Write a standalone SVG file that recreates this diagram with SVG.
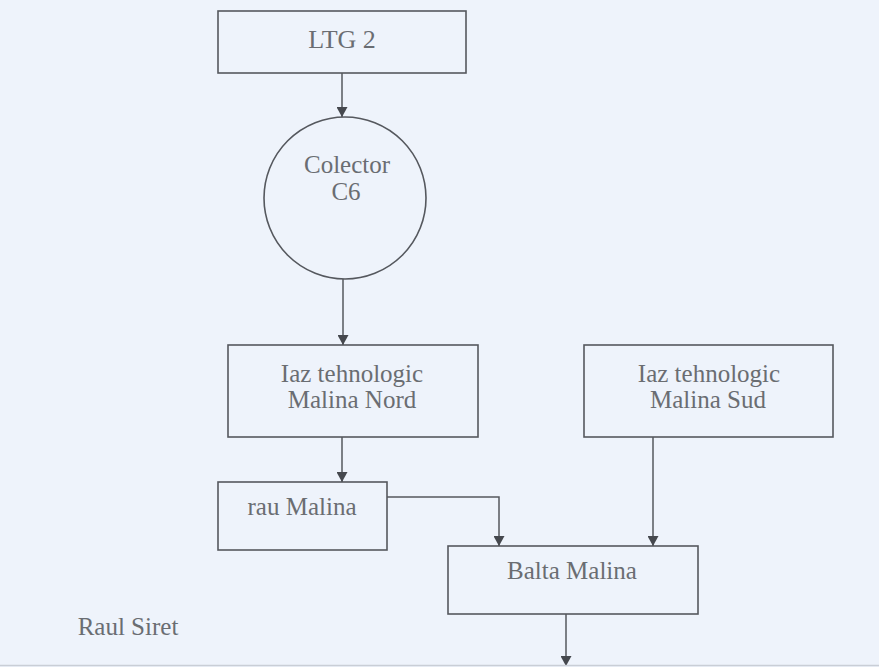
<svg xmlns="http://www.w3.org/2000/svg" width="879" height="667" viewBox="0 0 879 667">
<defs>
<style>
.box{fill:none;stroke:#55585e;stroke-width:1.6}
.t{font-family:'Liberation Serif','Times New Roman',serif;font-size:25px;fill:#6a6d72;text-anchor:middle}
.c{fill:none;stroke:#55585e;stroke-width:1.5}
</style>
<marker id="ah" markerWidth="10" markerHeight="11" refX="10" refY="5.5" orient="auto" markerUnits="userSpaceOnUse">
<path d="M0,0 L10,5.5 L0,11 z" fill="#45484e"/>
</marker>
</defs>
<rect width="879" height="667" fill="#eef3fb"/>
<g id="ltg2"><rect class="box" x="218" y="11" width="248" height="62"/><text class="t" x="342" y="48" style="font-size:26px">LTG 2</text></g>
<g id="colector"><circle class="box" cx="345" cy="198" r="81"/><text class="t" x="347" y="173">Colector</text><text class="t" x="346" y="200">C6</text></g>
<g id="iaz-nord"><rect class="box" x="228" y="345" width="250" height="92"/><text class="t" x="352" y="382">Iaz tehnologic</text><text class="t" x="352" y="408">Malina Nord</text></g>
<g id="iaz-sud"><rect class="box" x="584" y="345" width="249" height="92"/><text class="t" x="709" y="382">Iaz tehnologic</text><text class="t" x="708" y="408">Malina Sud</text></g>
<g id="rau-malina"><rect class="box" x="218" y="482" width="169" height="68"/><text class="t" x="302" y="515">rau Malina</text></g>
<g id="balta-malina"><rect class="box" x="448" y="546" width="250" height="68"/><text class="t" x="572" y="579">Balta Malina</text></g>
<g id="raul-siret"><text class="t" x="128" y="635">Raul Siret</text></g>
<g id="connectors">
<line class="c" x1="342" y1="73" x2="342" y2="117" marker-end="url(#ah)"/>
<line class="c" x1="343" y1="279" x2="343" y2="345" marker-end="url(#ah)"/>
<line class="c" x1="342" y1="437" x2="342" y2="482" marker-end="url(#ah)"/>
<polyline class="c" points="387,497 499,497 499,546" marker-end="url(#ah)"/>
<line class="c" x1="653" y1="437" x2="653" y2="546" marker-end="url(#ah)"/>
<line class="c" x1="566" y1="614" x2="566" y2="666" marker-end="url(#ah)"/>
</g>
<line x1="0" y1="665.5" x2="879" y2="665.5" stroke="#c9ced6" stroke-width="1.5"/>
</svg>
